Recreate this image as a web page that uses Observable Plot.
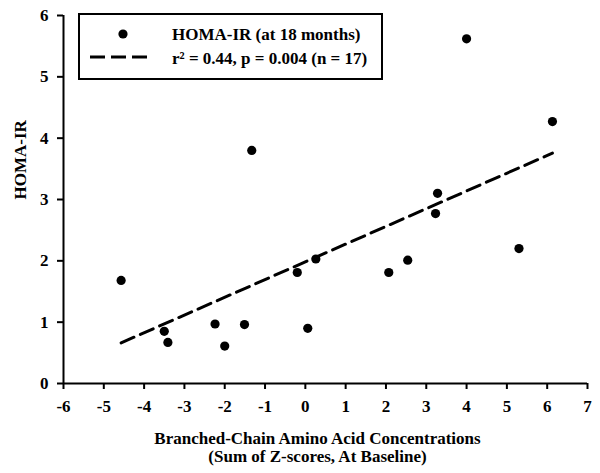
<!DOCTYPE html>
<html>
<head>
<meta charset="utf-8">
<script src="https://cdn.jsdelivr.net/npm/d3@7"></script>
<script src="https://cdn.jsdelivr.net/npm/@observablehq/plot@0.6"></script>
<style>
  html, body { margin: 0; padding: 0; background: #fff; }
  #chart { width: 600px; height: 473px; }
  #chart svg text { font-weight: bold !important; font-size: 17px !important; font-family: 'Liberation Serif', 'Times New Roman', serif !important; }
</style>
</head>
<body>
<div id="chart"></div>
<script>
// Data
const bcaa = [-4.57, -3.50, -3.41, -2.24, -2.00, -1.51, -1.33, -0.20, 0.06, 0.26, 2.07, 2.54, 3.23, 3.28, 4.00, 5.30, 6.13];
const homa = [1.68, 0.85, 0.67, 0.97, 0.61, 0.96, 3.80, 1.81, 0.90, 2.03, 1.81, 2.01, 2.77, 3.10, 5.62, 2.20, 4.27];
const xTicks = [-6, -5, -4, -3, -2, -1, 0, 1, 2, 3, 4, 5, 6, 7];
const yTicks = [0, 1, 2, 3, 4, 5, 6];
const xTitle = "Branched-Chain Amino Acid Concentrations\n(Sum of Z-scores, At Baseline)";
const yTitle = "HOMA-IR";
const legendLabels = ["HOMA-IR (at 18 months)", "r² = 0.44, p = 0.004 (n = 17)"];

const data = bcaa.map((x, i) => ({x, y: homa[i]}));
const font = "'Liberation Serif', 'Times New Roman', serif";
const dash = "14,7";
const fmt = d => String(d);

const chart = Plot.plot({
  width: 600,
  height: 473,
  marginLeft: 63,
  marginRight: 13,
  marginTop: 15,
  marginBottom: 90,
  style: {fontFamily: font, fontSize: "17px", fontWeight: "bold", color: "#000", background: "#fff", overflow: "visible"},
  x: {domain: [-6, 7]},
  y: {domain: [0, 6]},
  marks: [
    Plot.axisX({ticks: xTicks, tickFormat: fmt, tickSize: 6, tickPadding: 10, strokeWidth: 2, label: null, fontSize: 17}),
    Plot.axisY({ticks: yTicks, tickFormat: fmt, tickSize: 6, tickPadding: 9, strokeWidth: 2, label: null, fontSize: 17}),
    Plot.ruleY([0], {stroke: "#000", strokeWidth: 2}),
    Plot.ruleX([-6], {stroke: "#000", strokeWidth: 2}),
    Plot.linearRegressionY(data, {x: "x", y: "y", ci: 0, stroke: "#000", strokeWidth: 3, strokeDasharray: dash}),
    Plot.dot(data, {x: "x", y: "y", r: 4.6, fill: "#000", stroke: "none"}),
    Plot.text([xTitle], {frameAnchor: "bottom", lineAnchor: "top", dy: 47, dx: -8, fontSize: 17, lineHeight: 1.08, fill: "#000"}),
    Plot.text([yTitle], {frameAnchor: "left", rotate: -90, dx: -43, fontSize: 17, fill: "#000"})
  ]
});
document.getElementById("chart").appendChild(chart);

// Legend box (drawn into the same SVG)
const svg = d3.select(chart);
const g = svg.append("g").attr("font-size", 17).attr("text-anchor", "start");
g.append("rect").attr("x", 79).attr("y", 14).attr("width", 303).attr("height", 65)
  .attr("fill", "#fff").attr("stroke", "#000").attr("stroke-width", 2);
g.append("circle").attr("cx", 123).attr("cy", 34).attr("r", 4.6).attr("fill", "#000");
g.append("line").attr("x1", 90).attr("x2", 148).attr("y1", 57).attr("y2", 57)
  .attr("stroke", "#000").attr("stroke-width", 3).attr("stroke-dasharray", "15,6");
g.append("text").attr("x", 172).attr("y", 34).attr("dy", "0.35em").attr("fill", "#000").attr("text-anchor", "start").text(legendLabels[0]);
g.append("text").attr("x", 172).attr("y", 58).attr("dy", "0.35em").attr("fill", "#000").attr("text-anchor", "start").text(legendLabels[1]);
</script>
</body>
</html>
